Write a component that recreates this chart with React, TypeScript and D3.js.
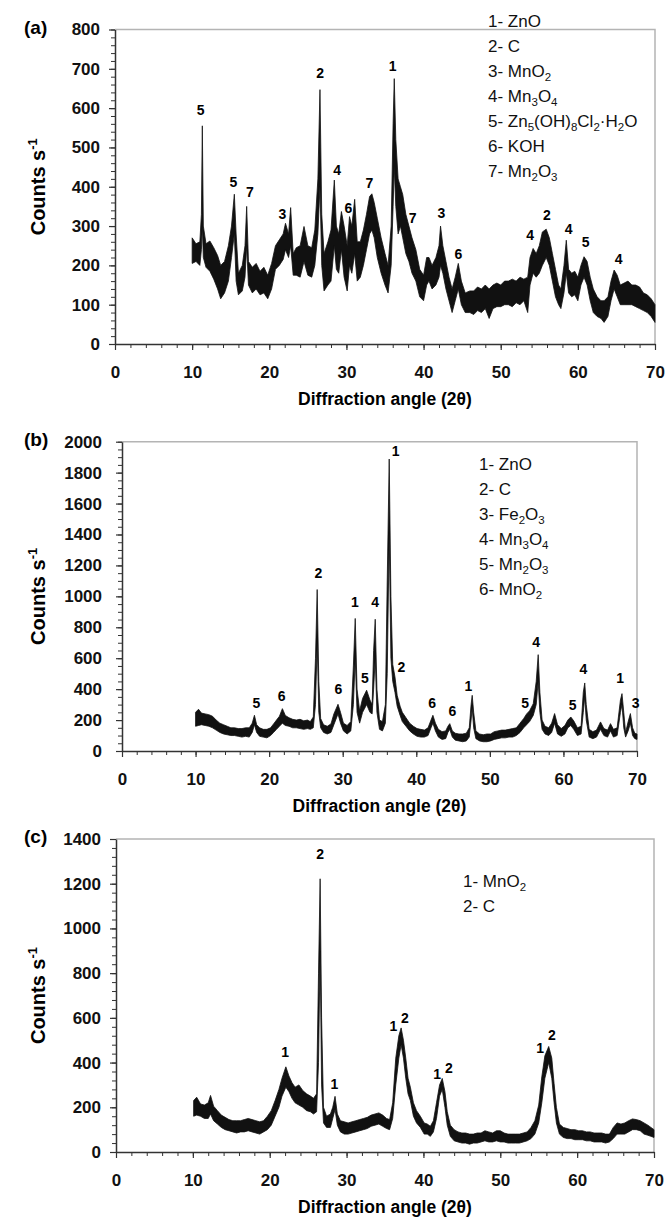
import { useEffect, useRef } from 'react'
import * as d3 from 'd3'

// [2θ, lower edge, upper edge] of the noisy trace, counts s-1
type Scan = [number, number, number][]
type PeakLabel = [number, number, string]

const scanA: Scan = [
  [10.0, 205, 270], [10.5, 210, 255], [11.0, 200, 260], [11.2, 240, 330], [11.32, 300, 555],
  [11.45, 220, 300], [11.8, 195, 255], [12.3, 185, 262], [12.8, 165, 245], [13.3, 140, 225],
  [13.7, 115, 200], [14.2, 130, 210], [14.7, 160, 250], [15.1, 220, 300], [15.47, 280, 381],
  [15.7, 160, 280], [16.0, 125, 180], [16.5, 135, 200], [16.85, 170, 250], [17.07, 250, 350],
  [17.3, 150, 210], [17.8, 130, 195], [18.3, 140, 205], [18.8, 125, 185], [19.3, 130, 195],
  [19.8, 115, 175], [20.3, 140, 205], [20.8, 190, 250], [21.3, 200, 265], [21.8, 215, 280],
  [22.1, 240, 307], [22.5, 220, 280], [22.77, 250, 347], [23.1, 175, 230], [23.5, 175, 245],
  [24.0, 170, 250], [24.5, 210, 299], [25.0, 175, 250], [25.5, 170, 245], [25.9, 200, 290],
  [26.3, 280, 420], [26.57, 400, 647], [26.8, 200, 330], [27.1, 135, 230], [27.6, 150, 260],
  [28.0, 160, 290], [28.43, 250, 417], [28.7, 190, 300], [29.0, 180, 280], [29.35, 240, 337],
  [29.7, 170, 300], [30.1, 135, 250], [30.4, 200, 324], [30.7, 180, 300], [31.07, 230, 368],
  [31.4, 160, 260], [31.8, 170, 260], [32.2, 200, 290], [32.6, 240, 330], [33.0, 280, 375],
  [33.3, 290, 382], [33.6, 270, 360], [34.0, 220, 320], [34.5, 180, 270], [35.0, 150, 230],
  [35.4, 130, 200], [35.8, 200, 300], [36.05, 350, 560], [36.2, 450, 675], [36.4, 350, 520],
  [36.7, 280, 420], [37.0, 300, 400], [37.3, 270, 380], [37.7, 230, 330], [38.1, 210, 300],
  [38.5, 180, 270], [39.0, 160, 240], [39.5, 120, 190], [40.0, 110, 175], [40.4, 150, 220],
  [40.7, 160, 220], [41.1, 140, 200], [41.6, 150, 220], [42.0, 170, 250], [42.2, 200, 300],
  [42.5, 180, 250], [42.9, 140, 210], [43.3, 110, 170], [43.7, 80, 140], [44.1, 110, 170],
  [44.5, 140, 205], [44.9, 100, 160], [45.4, 80, 130], [46.0, 80, 135], [46.5, 75, 135],
  [47.0, 85, 145], [47.5, 80, 140], [48.0, 90, 150], [48.5, 65, 140], [49.0, 90, 150],
  [49.5, 95, 155], [50.0, 95, 150], [50.5, 100, 160], [51.0, 100, 160], [51.5, 95, 165],
  [52.0, 105, 160], [52.5, 100, 170], [53.0, 110, 165], [53.5, 80, 170], [53.8, 150, 220],
  [54.2, 180, 243], [54.6, 170, 230], [55.0, 180, 250], [55.4, 200, 285], [55.9, 220, 292],
  [56.3, 200, 270], [56.7, 160, 230], [57.1, 120, 190], [57.5, 100, 150], [57.8, 90, 140],
  [58.2, 130, 200], [58.5, 180, 264], [58.8, 130, 190], [59.2, 120, 180], [59.6, 125, 185],
  [60.0, 110, 170], [60.4, 150, 200], [60.8, 170, 222], [61.2, 150, 210], [61.6, 110, 170],
  [62.0, 80, 140], [62.5, 70, 120], [63.0, 65, 110], [63.4, 55, 110], [63.9, 70, 120],
  [64.3, 110, 160], [64.7, 140, 188], [65.1, 120, 175], [65.5, 100, 150], [66.0, 100, 155],
  [66.5, 100, 160], [67.0, 100, 150], [67.5, 95, 150], [68.0, 90, 145], [68.5, 85, 130],
  [69.0, 80, 125], [69.5, 70, 115], [70.0, 55, 100],
]

const scanB: Scan = [
  [10.0, 160, 250], [10.4, 165, 270], [10.8, 170, 245], [11.3, 165, 240], [11.8, 160, 235],
  [12.3, 150, 225], [12.8, 135, 200], [13.3, 120, 180], [13.8, 110, 170], [14.3, 105, 160],
  [14.8, 100, 150], [15.3, 100, 150], [15.8, 95, 145], [16.3, 90, 145], [16.8, 95, 150],
  [17.3, 90, 150], [17.7, 120, 180], [18.0, 170, 231], [18.3, 120, 170], [18.7, 95, 150],
  [19.2, 90, 140], [19.7, 85, 140], [20.2, 100, 150], [20.6, 120, 175], [21.0, 140, 200],
  [21.4, 160, 225], [21.8, 180, 274], [22.2, 165, 230], [22.7, 160, 215], [23.2, 150, 205],
  [23.7, 150, 200], [24.2, 145, 205], [24.7, 140, 195], [25.2, 145, 200], [25.6, 140, 190],
  [26.0, 150, 220], [26.3, 300, 600], [26.53, 700, 1044], [26.75, 250, 450], [27.0, 150, 210],
  [27.4, 120, 170], [27.9, 110, 160], [28.4, 120, 175], [28.8, 170, 240], [29.36, 240, 302],
  [29.7, 180, 250], [30.1, 130, 180], [30.6, 110, 165], [31.1, 130, 190], [31.45, 300, 550],
  [31.7, 600, 857], [31.95, 250, 400], [32.3, 180, 260], [32.7, 250, 340], [33.25, 300, 393],
  [33.7, 250, 330], [34.0, 240, 300], [34.2, 400, 650], [34.42, 600, 852], [34.65, 250, 400],
  [35.0, 140, 200], [35.4, 130, 190], [35.8, 180, 300], [36.05, 500, 1100], [36.32, 1400, 1888],
  [36.55, 600, 1000], [36.8, 450, 560], [37.1, 380, 480], [37.4, 290, 360], [37.8, 230, 290],
  [38.1, 190, 250], [38.6, 160, 215], [39.1, 130, 180], [39.6, 110, 160], [40.1, 95, 145],
  [40.6, 90, 140], [41.1, 90, 135], [41.6, 100, 150], [42.0, 150, 200], [42.26, 180, 231],
  [42.6, 130, 180], [43.0, 90, 140], [43.5, 75, 125], [44.0, 80, 130], [44.3, 120, 160],
  [44.55, 140, 177], [44.9, 90, 130], [45.3, 70, 115], [45.8, 65, 110], [46.3, 60, 110],
  [46.8, 65, 115], [47.2, 90, 150], [47.45, 200, 300], [47.6, 280, 360], [47.8, 150, 250],
  [48.1, 80, 130], [48.6, 65, 110], [49.1, 60, 105], [49.6, 60, 110], [50.1, 65, 110],
  [50.6, 75, 125], [51.1, 80, 130], [51.6, 85, 135], [52.1, 85, 135], [52.6, 90, 140],
  [53.1, 90, 145], [53.6, 100, 150], [54.1, 120, 180], [54.6, 150, 210], [55.0, 170, 240],
  [55.4, 190, 260], [55.9, 230, 306], [56.3, 300, 450], [56.57, 450, 623], [56.8, 250, 380],
  [57.1, 140, 200], [57.5, 110, 160], [58.0, 100, 150], [58.4, 120, 180], [58.8, 180, 242],
  [59.2, 110, 170], [59.7, 95, 145], [60.2, 110, 165], [60.6, 150, 200], [61.0, 165, 220],
  [61.4, 140, 195], [61.9, 100, 150], [62.4, 110, 160], [62.7, 250, 380], [62.9, 350, 440],
  [63.1, 200, 300], [63.5, 90, 140], [64.0, 80, 125], [64.5, 90, 135], [65.04, 140, 188],
  [65.5, 100, 145], [66.0, 90, 135], [66.4, 130, 177], [66.8, 90, 140], [67.3, 100, 150],
  [67.75, 250, 330], [67.96, 300, 371], [68.2, 150, 250], [68.45, 90, 120], [68.8, 130, 190],
  [69.1, 180, 242], [69.4, 100, 150], [69.7, 80, 115], [70.0, 75, 110],
]

const scanC: Scan = [
  [10.1, 160, 230], [10.5, 165, 245], [11.0, 160, 215], [11.5, 150, 210], [12.0, 150, 220],
  [12.3, 170, 253], [12.7, 140, 205], [13.2, 125, 185], [13.7, 110, 165], [14.2, 100, 155],
  [14.7, 95, 145], [15.2, 90, 140], [15.7, 85, 140], [16.2, 90, 140], [16.7, 90, 145],
  [17.2, 95, 150], [17.7, 90, 145], [18.2, 85, 140], [18.7, 80, 135], [19.2, 90, 140],
  [19.7, 100, 160], [20.2, 120, 185], [20.7, 160, 230], [21.2, 200, 280], [21.6, 250, 330],
  [22.1, 290, 381], [22.5, 270, 340], [22.9, 240, 310], [23.3, 220, 290], [23.8, 210, 300],
  [24.3, 200, 275], [24.8, 185, 260], [25.3, 180, 250], [25.7, 170, 240], [26.1, 180, 260],
  [26.35, 400, 800], [26.56, 900, 1222], [26.75, 300, 600], [27.0, 130, 200], [27.4, 110, 160],
  [27.9, 110, 170], [28.2, 150, 200], [28.5, 190, 249], [28.8, 120, 170], [29.2, 90, 140],
  [29.7, 80, 135], [30.2, 80, 130], [30.7, 85, 135], [31.2, 90, 140], [31.7, 95, 145],
  [32.2, 100, 150], [32.7, 105, 155], [33.2, 115, 165], [33.7, 120, 170], [34.2, 125, 175],
  [34.7, 115, 165], [35.2, 105, 150], [35.6, 100, 145], [36.0, 150, 220], [36.4, 300, 420],
  [36.8, 420, 520], [37.1, 480, 555], [37.4, 420, 500], [37.7, 330, 420], [38.0, 260, 330],
  [38.3, 230, 290], [38.7, 160, 220], [39.1, 130, 185], [39.6, 110, 160], [40.1, 80, 130],
  [40.5, 80, 125], [40.9, 70, 115], [41.3, 90, 140], [41.7, 150, 220], [42.1, 250, 300],
  [42.45, 280, 329], [42.8, 200, 270], [43.1, 120, 180], [43.5, 70, 120], [44.0, 50, 100],
  [44.5, 45, 90], [45.0, 40, 85], [45.5, 40, 85], [46.0, 35, 80], [46.5, 40, 80],
  [47.0, 40, 85], [47.5, 45, 85], [48.0, 50, 95], [48.5, 45, 90], [49.0, 45, 85],
  [49.5, 50, 95], [50.0, 45, 95], [50.5, 45, 85], [51.0, 40, 80], [51.5, 40, 80],
  [52.0, 40, 80], [52.5, 40, 80], [53.0, 45, 85], [53.5, 50, 90], [54.0, 60, 110],
  [54.5, 80, 140], [55.0, 130, 210], [55.4, 220, 336], [55.8, 330, 430], [56.3, 400, 472],
  [56.7, 330, 420], [57.0, 220, 306], [57.3, 130, 200], [57.7, 80, 125], [58.2, 65, 110],
  [58.7, 60, 105], [59.2, 60, 100], [59.7, 55, 100], [60.2, 55, 95], [60.7, 55, 95],
  [61.2, 50, 90], [61.7, 50, 90], [62.2, 45, 85], [62.7, 45, 85], [63.2, 45, 85],
  [63.7, 40, 80], [64.2, 45, 80], [64.7, 60, 110], [65.2, 80, 130], [65.7, 80, 125],
  [66.2, 80, 130], [66.7, 90, 140], [67.2, 100, 148], [67.7, 100, 145], [68.2, 95, 140],
  [68.7, 80, 130], [69.2, 75, 120], [69.6, 70, 110], [70.0, 65, 100],
]

// peak markers: [2θ, counts at text centre, phase number]
const labelsA: PeakLabel[] = [
  [11.1, 594, '5'], [15.34, 411, '5'], [17.5, 386, '7'], [21.7, 330, '3'], [26.6, 690, '2'],
  [28.8, 443, '4'], [30.25, 345, '6'], [32.97, 409, '7'], [36.0, 707, '1'], [38.6, 320, '7'],
  [42.3, 332, '3'], [44.5, 230, '6'], [53.8, 277, '4'], [56.0, 328, '2'], [58.8, 292, '4'],
  [61.0, 260, '5'], [65.3, 217, '4'],
]
const labelsB: PeakLabel[] = [
  [18.26, 313, '5'], [21.7, 354, '6'], [26.7, 1154, '2'], [29.4, 399, '6'], [31.65, 964, '1'],
  [33.0, 475, '5'], [34.4, 964, '4'], [37.2, 1942, '1'], [37.97, 544, '2'], [42.16, 313, '6'],
  [44.9, 257, '6'], [47.1, 421, '1'], [54.8, 313, '5'], [56.3, 705, '4'], [61.25, 300, '5'],
  [62.7, 533, '4'], [67.7, 472, '1'], [69.8, 313, '3'],
]
const labelsC: PeakLabel[] = [
  [22.0, 446, '1'], [26.55, 1333, '2'], [28.4, 306, '1'], [36.1, 562, '1'], [37.6, 600, '2'],
  [41.8, 351, '1'], [43.3, 374, '2'], [55.2, 467, '1'], [56.7, 524, '2'],
]

// "_n" marks a subscript digit
const legendA = ['1- ZnO', '2- C', '3- MnO_2', '4- Mn_3O_4', '5- Zn_5(OH)_8Cl_2·H_2O', '6- KOH', '7- Mn_2O_3']
const legendB = ['1- ZnO', '2- C', '3- Fe_2O_3', '4- Mn_3O_4', '5- Mn_2O_3', '6- MnO_2']
const legendC = ['1- MnO_2', '2- C']

const xTicks = d3.range(0, 71, 10)

const panels = [
  { tag: '(a)', scan: scanA, labels: labelsA, legend: legendA, yMax: 800, yStep: 100, yMinor: 20,
    left: 115, right: 655, top: 29.5, bottom: 344, yPad: 9, legendX: 488, legendY: 27 },
  { tag: '(b)', scan: scanB, labels: labelsB, legend: legendB, yMax: 2000, yStep: 200, yMinor: 50,
    left: 122, right: 637, top: 441.7, bottom: 751, yPad: 14, legendX: 479, legendY: 470 },
  { tag: '(c)', scan: scanC, labels: labelsC, legend: legendC, yMax: 1400, yStep: 200, yMinor: 40,
    left: 116, right: 654, top: 839, bottom: 1152, yPad: 9, legendX: 463, legendY: 887 },
]

const FONT = '"Liberation Sans", Arial, sans-serif'

export default function App() {
  const svgRef = useRef<SVGSVGElement>(null)

  useEffect(() => {
    const svg = d3.select(svgRef.current)
    svg.selectAll('*').remove()

    panels.forEach(p => {
      const x = d3.scaleLinear().domain([0, 70]).range([p.left, p.right])
      const y = d3.scaleLinear().domain([0, p.yMax]).range([p.bottom, p.top])
      const g = svg.append('g')

      // light frame on top and right
      g.append('path')
        .attr('d', `M${p.left},${p.top}H${p.right}V${p.bottom}`)
        .attr('fill', 'none')
        .attr('stroke', '#b4b4b4')
        .attr('stroke-width', 1.5)

      // trace as a band between its lower and upper edges
      const band = d3.area<[number, number, number]>()
        .x(d => x(d[0]))
        .y0(d => y(d[1]))
        .y1(d => y(d[2]))
      g.append('path')
        .datum(p.scan)
        .attr('d', band)
        .attr('fill', '#111')
        .attr('stroke', '#111')
        .attr('stroke-width', 0.8)
        .attr('stroke-linejoin', 'round')

      const styleAxis = (a: d3.Selection<SVGGElement, unknown, null, undefined>) => {
        a.attr('font-family', FONT).attr('font-size', 17).attr('font-weight', 'bold')
        a.select('.domain').attr('stroke', '#333').attr('stroke-width', 1.5)
        a.selectAll('.tick line').attr('stroke', '#333').attr('stroke-width', 1.2)
        a.selectAll('.tick text').attr('fill', '#111')
      }

      // y axis
      g.append('g')
        .attr('transform', `translate(${p.left},0)`)
        .call(d3.axisLeft(y).tickValues(d3.range(0, p.yMax + 1, p.yMinor)).tickSize(4).tickFormat(() => ''))
        .call(a => a.select('.domain').remove())
        .selectAll('.tick line').attr('stroke', '#333').attr('stroke-width', 1)
      g.append('g')
        .attr('transform', `translate(${p.left},0)`)
        .call(d3.axisLeft(y).tickValues(d3.range(0, p.yMax + 1, p.yStep)).tickFormat(d3.format('d'))
          .tickSize(6).tickSizeOuter(0).tickPadding(p.yPad))
        .call(styleAxis)

      // x axis
      g.append('g')
        .attr('transform', `translate(0,${p.bottom})`)
        .call(d3.axisBottom(x).tickValues(d3.range(0, 71, 2)).tickSize(4).tickFormat(() => ''))
        .call(a => a.select('.domain').remove())
        .selectAll('.tick line').attr('stroke', '#333').attr('stroke-width', 1)
      g.append('g')
        .attr('transform', `translate(0,${p.bottom})`)
        .call(d3.axisBottom(x).tickValues(xTicks).tickFormat(d3.format('d'))
          .tickSize(6).tickSizeOuter(0).tickPadding(16))
        .call(styleAxis)

      // axis titles
      g.append('text')
        .attr('x', (p.left + p.right) / 2)
        .attr('y', p.bottom + 61)
        .attr('text-anchor', 'middle')
        .attr('font-family', FONT).attr('font-size', 17.5).attr('font-weight', 'bold')
        .text('Diffraction angle (2θ)')
      const yt = g.append('text')
        .attr('transform', `translate(45,${(p.top + p.bottom) / 2}) rotate(-90)`)
        .attr('text-anchor', 'middle')
        .attr('font-family', FONT).attr('font-size', 20).attr('font-weight', 'bold')
      yt.append('tspan').text('Counts s')
      yt.append('tspan').attr('dy', -8).attr('font-size', 13).text('-1')

      // panel tag
      g.append('text')
        .attr('x', 24).attr('y', p.top + 4)
        .attr('font-family', FONT).attr('font-size', 19).attr('font-weight', 'bold')
        .text(p.tag)

      // peak labels
      g.selectAll('text.peak')
        .data(p.labels)
        .enter()
        .append('text')
        .attr('class', 'peak')
        .attr('x', d => x(d[0]))
        .attr('y', d => y(d[1]))
        .attr('text-anchor', 'middle')
        .attr('dominant-baseline', 'central')
        .attr('font-family', FONT).attr('font-size', 14).attr('font-weight', 'bold')
        .text(d => d[2])

      // phase legend
      p.legend.forEach((entry, i) => {
        const t = g.append('text')
          .attr('x', p.legendX)
          .attr('y', p.legendY + i * 25)
          .attr('font-family', FONT).attr('font-size', 17)
          .attr('fill', '#111')
        entry.split(/_(\d)/).forEach((part, j) => {
          if (!part) return
          if (j % 2 === 1) {
            t.append('tspan').attr('dy', 4).attr('font-size', 11.5).text(part)
          } else {
            t.append('tspan').attr('dy', j > 0 ? -4 : 0).text(part)
          }
        })
      })
    })
  }, [])

  return (
    <svg
      ref={svgRef}
      width={669}
      height={1220}
      style={{ position: 'absolute', left: 0, top: 0, background: '#fff' }}
    />
  )
}
